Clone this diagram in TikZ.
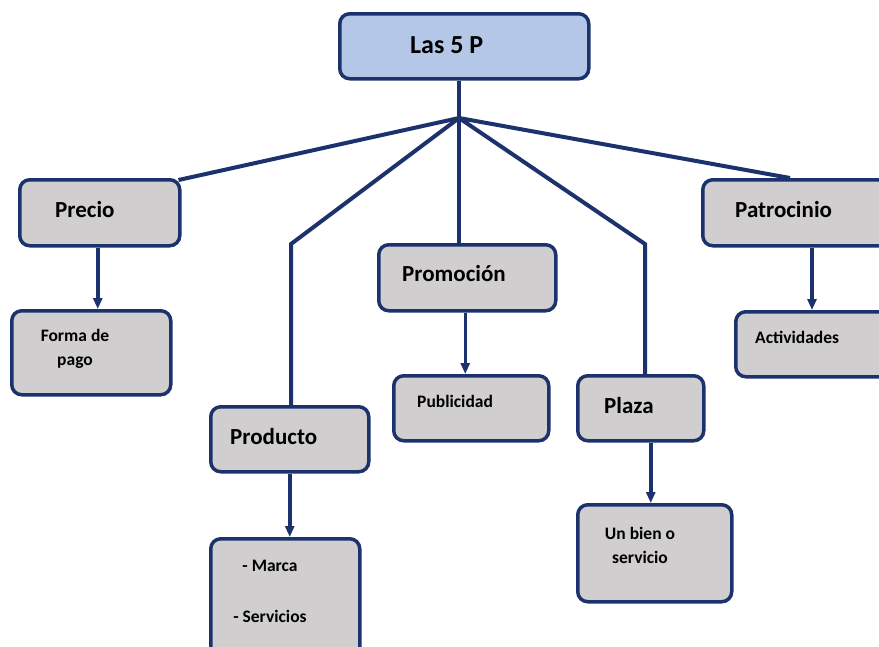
\documentclass[tikz,border=0pt]{standalone}
\usepackage{fontspec}
\setmainfont{Carlito}
\usetikzlibrary{arrows.meta,calc}
\definecolor{navy}{RGB}{28,50,108}
\definecolor{boxgray}{RGB}{208,206,206}
\definecolor{topblue}{RGB}{180,199,231}
\tikzset{
  box/.style={draw=navy, line width=3.5pt, rounded corners=10pt, fill=boxgray, anchor=north west, inner sep=0pt},
  conn/.style={draw=navy, line width=4pt},
  arr/.style={draw=navy, line width=3.5pt, -{Triangle[width=9pt,length=11pt]}},
  big/.style={font=\bfseries\fontsize{26}{30}\selectfont, anchor=west, inner sep=0pt},
  mid/.style={font=\bfseries\fontsize{23}{27}\selectfont, anchor=west, inner sep=0pt},
  small/.style={font=\bfseries\fontsize{17.5}{24}\selectfont, inner sep=0pt}
}
\begin{document}
\begin{tikzpicture}[x=1pt,y=-1pt]
\useasboundingbox (0,0) rectangle (879,646);
\clip (0,0) rectangle (879,646);
% boxes
\node[box, fill=topblue, minimum width=249pt, minimum height=65pt] (top) at (338,12) {};
\node[box, minimum width=160pt, minimum height=66pt] (precio) at (18,178) {};
\node[box, minimum width=159pt, minimum height=84pt] (forma) at (10,309) {};
\node[box, minimum width=158pt, minimum height=65pt] (producto) at (209,405) {};
\node[box, minimum width=149pt, minimum height=120pt] (marca) at (209,537) {};
\node[box, minimum width=177pt, minimum height=66pt] (promo) at (377,243) {};
\node[box, minimum width=155pt, minimum height=65pt] (publ) at (392,374) {};
\node[box, minimum width=126pt, minimum height=65pt] (plaza) at (576,374) {};
\node[box, minimum width=154pt, minimum height=97pt] (bien) at (576,503) {};
\node[box, minimum width=190pt, minimum height=66pt] (patro) at (701,178) {};
\node[box, minimum width=160pt, minimum height=65pt] (activ) at (734,310) {};
% texts
\node[big] (t-top) at (410,45) {Las 5 P};
\node[mid] (t-precio) at (55,210) {Precio};
\node[small, align=center] (t-forma) at (75,349) {Forma de\\pago};
\node[mid] (t-producto) at (230,437) {Producto};
\node[small] (t-marca) at (270,566) {- Marca};
\node[small] (t-serv) at (270,616) {- Servicios};
\node[mid] (t-promo) at (402,274) {Promoción};
\node[small, anchor=west] (t-publ) at (417,401) {Publicidad};
\node[mid] (t-plaza) at (604,406) {Plaza};
\node[small, align=center] (t-bien) at (640,545) {Un bien o\\servicio};
\node[mid] (t-patro) at (735,210) {Patrocinio};
\node[small, anchor=west] (t-activ) at (755,337) {Actividades};
% connectors
\coordinate (hub) at (459,118);
\coordinate (bp) at (291,244);
\coordinate (bq) at (645,244);
\coordinate (pt) at (790,178);
\draw[conn] (top.south -| hub) -- (hub);
\draw[conn] (hub) -- ($(precio.north east)+(-3,2)$);
\draw[conn] (hub) -- (bp) -- (bp |- producto.north);
\draw[conn] (hub) -- (hub |- promo.north);
\draw[conn] (hub) -- (bq) -- (bq |- plaza.north);
\draw[conn] (hub) -- (pt);
\draw[arr] ($(precio.south)+(-2,0)$) -- ($(precio.south |- forma.north)+(-2,0)$);
\draw[arr] (producto.south) -- (producto.south |- marca.north);
\draw[arr] ($(promo.south)+(-2,0)$) -- ($(promo.south |- publ.north)+(-2,0)$);
\draw[arr] ($(plaza.south)+(10,0)$) -- ($(plaza.south |- bien.north)+(10,0)$);
\draw[arr] ($(patro.south west)+(111,0)$) -- ($(patro.south west |- activ.north)+(111,0)$);
\end{tikzpicture}
\end{document}
